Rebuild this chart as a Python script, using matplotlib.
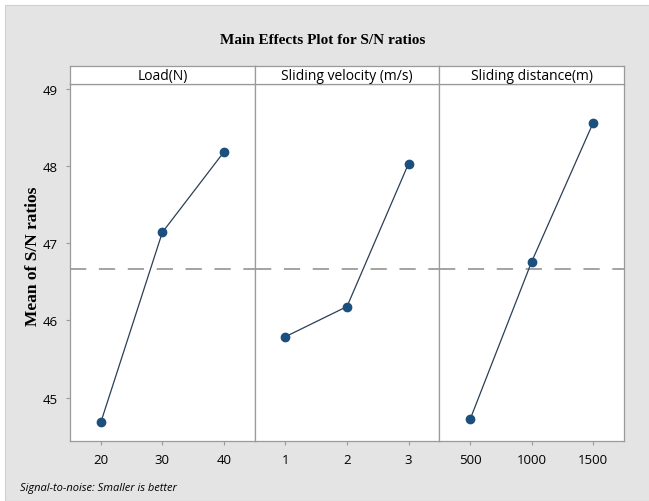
import numpy as np
import matplotlib
matplotlib.use("Agg")
import matplotlib.pyplot as plt
from matplotlib.patches import Rectangle

# factor levels and mean S/N ratios
factors = ["Load(N)", "Sliding velocity (m/s)", "Sliding distance(m)"]
load_levels = ["20", "30", "40"]
load_sn = [44.68, 47.14, 48.18]
vel_levels = ["1", "2", "3"]
vel_sn = [45.79, 46.18, 48.03]
dist_levels = ["500", "1000", "1500"]
dist_sn = [44.72, 46.76, 48.56]
y_ticks = [45, 46, 47, 48, 49]

levels = [load_levels, vel_levels, dist_levels]
values = [load_sn, vel_sn, dist_sn]
grand_mean = np.mean(load_sn + vel_sn + dist_sn)

W, H = 649, 502
fig = plt.figure(figsize=(W / 100, H / 100), dpi=100, facecolor="white")
# gray background panel (Minitab style)
fig.patches.append(Rectangle((5 / W, 0), 1, 1 - 6 / H, transform=fig.transFigure,
                             facecolor="#e4e4e4", edgecolor="#d0d0d0", lw=0.8, zorder=-10))

left, right = 70 / W, 624 / W
bottom, top = 1 - 442 / H, 1 - 85 / H
strip_h = 18 / H
pw = (right - left) / 3
edge = "#9a9a9a"
blue = "#1b4f7e"

for i in range(3):
    ax = fig.add_axes([left + i * pw, bottom, pw, top - bottom])
    x = np.arange(len(levels[i]))
    ax.axhline(grand_mean, color="#9c9c9c", lw=1.3, dashes=(9, 7), zorder=1)
    ax.plot(x, values[i], color="#2a3f55", lw=0.9, zorder=2)
    ax.plot(x, values[i], "o", color=blue, ms=6, zorder=3)
    ax.set_xlim(-0.5, 2.5)
    ax.set_ylim(44.44, 49.06)
    ax.set_xticks(x)
    ax.set_xticklabels(levels[i], fontsize=9.5, family="Open Sans")
    ax.set_yticks(y_ticks)
    ax.tick_params(axis="both", direction="out", length=3, color=edge, pad=6)
    if i == 0:
        ax.set_yticklabels([str(t) for t in y_ticks], fontsize=9.5, family="Open Sans")
    else:
        ax.tick_params(axis="y", left=False, labelleft=False)
    for s in ax.spines.values():
        s.set_color(edge)
        s.set_linewidth(0.9)

    # strip header
    sx = fig.add_axes([left + i * pw, top, pw, strip_h])
    sx.set_xticks([])
    sx.set_yticks([])
    sx.set_facecolor("white")
    for s in sx.spines.values():
        s.set_color(edge)
        s.set_linewidth(0.9)
    sx.text(0.5, 0.45, factors[i], ha="center", va="center", fontsize=10,
            family="Open Sans", transform=sx.transAxes)

fig.text(323 / W, 1 - 40 / H, "Main Effects Plot for S/N ratios", ha="center", va="center",
         fontsize=11, fontweight="bold", family="Liberation Serif")
fig.text(33 / W, 1 - 256 / H, "Mean of S/N ratios", ha="center", va="center", rotation=90,
         fontsize=12.5, fontweight="bold", family="Liberation Serif")
fig.text(20 / W, 1 - 489 / H, "Signal-to-noise: Smaller is better", ha="left", va="center",
         fontsize=8, style="italic", family="Open Sans")

fig.savefig("out.png", dpi=100)
